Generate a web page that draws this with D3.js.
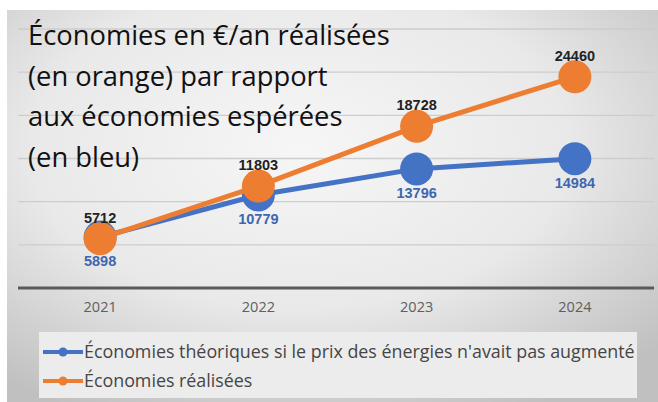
<!DOCTYPE html>
<html>
<head>
<meta charset="utf-8">
<script src="https://cdn.jsdelivr.net/npm/d3@7"></script>
<style>
  body { margin: 0; background: #fff; }
  svg { display: block; }
</style>
</head>
<body>
<div id="chart"></div>
<script>
// data
const years = ["2021", "2022", "2023", "2024"]
const theoretical = [5898, 10779, 13796, 14984]
const realised = [5712, 11803, 18728, 24460]
const yTicks = [0, 5000, 10000, 15000, 20000, 25000, 30000]
const titleLines = ["Économies en €/an réalisées", "(en orange) par rapport", "aux économies espérées", "(en bleu)"]
const legendLabels = ["Économies théoriques si le prix des énergies n'avait pas augmenté", "Économies réalisées"]

const width = 658
const height = 402
const blue = "#4472c4"
const orange = "#ed7d31"

const svg = d3.select("#chart").append("svg")
    .attr("width", width)
    .attr("height", height)

// achtergrond
const defs = svg.append("defs")
const grad = defs.append("radialGradient")
    .attr("id", "bg")
    .attr("cx", "45%").attr("cy", "35%").attr("r", "75%")
grad.append("stop").attr("offset", "0%").attr("stop-color", "#f6f6f6")
grad.append("stop").attr("offset", "55%").attr("stop-color", "#e9e9e9")
grad.append("stop").attr("offset", "100%").attr("stop-color", "#c0c0c0")

svg.append("rect")
    .attr("x", 7).attr("y", 10)
    .attr("width", width - 7).attr("height", height - 10)
    .attr("fill", "url(#bg)")

// schalen
const x = d3.scaleBand()
    .domain(years)
    .range([21, 654])

const y = d3.scaleLinear()
    .domain([0, 30000])
    .range([288, 29])

const cx = function(d, i) { return x(years[i]) + x.bandwidth() / 2 }

// gridlijnen
svg.append("g")
    .selectAll("line")
    .data(yTicks.slice(1))
    .enter().append("line")
    .attr("x1", 18).attr("x2", 654)
    .attr("y1", function(d) { return y(d) })
    .attr("y2", function(d) { return y(d) })
    .attr("stroke", "#cdcdcd")
    .attr("stroke-width", 1.3)

// x-as
const xAxis = svg.append("g")
    .attr("transform", "translate(0," + y(0) + ")")
    .call(d3.axisBottom(x).tickSize(0).tickPadding(14))
xAxis.select(".domain")
    .attr("d", "M18,0H654")
    .attr("stroke", "#5a5a5a")
    .attr("stroke-width", 3)
xAxis.selectAll("text")
    .attr("fill", "#5f5f5f")
    .style("font-family", "Open Sans")
    .style("font-size", "14.5px")

// lijnen en punten
function drawSeries(values, color) {
  const line = d3.line()
      .x(function(d, i) { return cx(d, i) })
      .y(function(d) { return y(d) })
  svg.append("path")
      .datum(values)
      .attr("d", line)
      .attr("fill", "none")
      .attr("stroke", color)
      .attr("stroke-width", 5)
  svg.append("g")
      .selectAll("circle")
      .data(values)
      .enter().append("circle")
      .attr("cx", cx)
      .attr("cy", function(d) { return y(d) })
      .attr("r", 16.5)
      .attr("fill", color)
}
drawSeries(theoretical, blue)
drawSeries(realised, orange)

// labels
svg.append("g")
    .selectAll("text")
    .data(theoretical)
    .enter().append("text")
    .attr("x", cx)
    .attr("y", function(d) { return y(d) + 29 })
    .attr("text-anchor", "middle")
    .attr("fill", "#3e66b0")
    .style("font-family", "Liberation Sans")
    .style("font-weight", "bold")
    .style("font-size", "14.5px")
    .text(function(d) { return d })

svg.append("g")
    .selectAll("text")
    .data(realised)
    .enter().append("text")
    .attr("x", cx)
    .attr("y", function(d) { return y(d) - 16 })
    .attr("text-anchor", "middle")
    .attr("fill", "#222")
    .style("font-family", "Liberation Sans")
    .style("font-weight", "bold")
    .style("font-size", "14.5px")
    .text(function(d) { return d })

// titel
const title = svg.append("g")
    .selectAll("text")
    .data(titleLines)
    .enter().append("text")
    .attr("x", 28)
    .attr("y", function(d, i) { return 45 + i * 40.5 })
    .attr("fill", "#111")
    .style("font-family", "Open Sans")
    .style("font-size", "26px")
    .text(function(d) { return d })

// pas de lettergrootte aan zodat regel 1 ongeveer 362px breed is
const w1 = title.nodes()[0].getComputedTextLength()
title.style("font-size", (26 * 362 / w1) + "px")

// legenda
svg.append("rect")
    .attr("x", 39).attr("y", 332)
    .attr("width", 598).attr("height", 66)
    .attr("fill", "#ececec")

const legend = svg.append("g")
    .selectAll("g")
    .data(legendLabels)
    .enter().append("g")
    .attr("transform", function(d, i) { return "translate(0," + (352 + i * 29) + ")" })

legend.append("line")
    .attr("x1", 43).attr("x2", 83)
    .attr("stroke", function(d, i) { return i == 0 ? blue : orange })
    .attr("stroke-width", 4)
legend.append("circle")
    .attr("cx", 63)
    .attr("r", 4.5)
    .attr("fill", function(d, i) { return i == 0 ? blue : orange })

const legendText = legend.append("text")
    .attr("x", 84)
    .attr("dy", "0.35em")
    .attr("fill", "#454545")
    .style("font-family", "Open Sans")
    .style("font-size", "18px")
    .text(function(d) { return d })

const lw = legendText.nodes()[0].getComputedTextLength()
legendText.style("font-size", (18 * 551 / lw) + "px")
</script>
</body>
</html>
